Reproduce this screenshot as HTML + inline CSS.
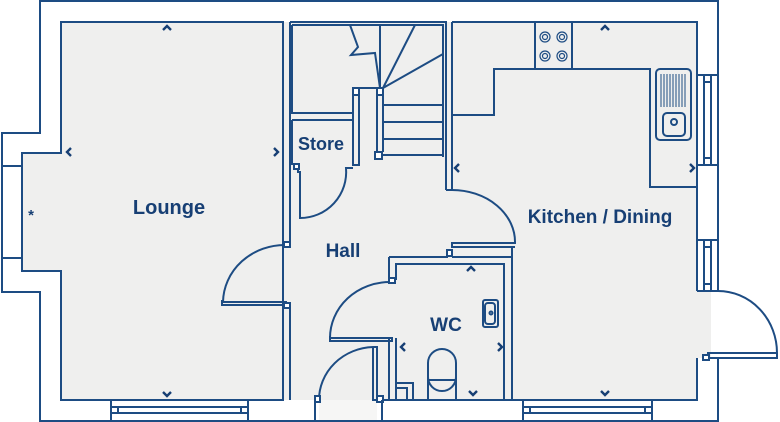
<!DOCTYPE html>
<html><head><style>body{margin:0;background:#fff}svg{display:block}text{font-family:"Liberation Sans",sans-serif;font-weight:bold;fill:#173f74}</style></head><body>
<svg width="780" height="422" viewBox="0 0 780 422" xmlns="http://www.w3.org/2000/svg">
<path d="M40 1 H718 V421 H40 V292 H2 V133 H40 Z" fill="#fff"/>
<path d="M61 22 H697 V291 H711 V358 H697 V400 H61 V271 H22 V153 H61 Z" fill="#efefee"/>
<rect x="319" y="400" width="58" height="21" fill="#f6f6f5"/>
<g stroke="#1d4c83" stroke-width="2" fill="none">
<path d="M718 291 V1 H40 V133 H2 V292 H40 V421 H718 V358"/>
<path d="M61 22 H283 V400 H61 V271 H22 V153 H61 Z"/>
<path d="M452 22 H697 V291 M697 358 V400 H384"/>
<path d="M290 22 H446 V190 M290 22 V245 M290 302 V400"/>
<path d="M446 190 H452 V22"/>
<path d="M292 25 H443 V157 M292 25 V113 H353 V88 H377 M353 113 V120 M292 120 H353 V165 H359 V88 M292 120 V165"/>
<rect x="353" y="88" width="6" height="7" fill="#fff"/>
<rect x="377" y="88" width="6" height="7" fill="#fff"/>
<rect x="375" y="152" width="7" height="7" fill="#fff"/>
<path d="M377 95 V152 M383 95 V152 M380 25 V88 M383 88 L415 25 M383 88 L443 54 M383 105 H443 M383 122 H443 M383 139 H443 M383 155 H443"/>
<path d="M350 25 L358 47 L351 55 L375 53 L380 88"/>
<path d="M294 165 H298 V172 H300 V218 A46 46 0 0 0 346 168 H353"/>
<rect x="294" y="164" width="5" height="5" fill="#fff"/>
<path d="M286 245 A62 58 0 0 0 223 302 H286 V305 H222 V300"/>
<rect x="284" y="242" width="6" height="5" fill="#fff"/>
<rect x="284" y="303" width="6" height="5" fill="#fff"/>
<path d="M452 190 A63 52 0 0 1 515 243 H452 V247 H515"/>
<path d="M389 257 V280 M389 338 V400 M396 338 V400 M396 280 V264 H504 V400 M512 247 V400"/>
<path d="M389 257 H448 M452 257 H512"/>
<rect x="447" y="250" width="5" height="6" fill="#fff"/>
<rect x="389" y="278" width="6" height="5" fill="#fff"/>
<path d="M390 282 A60 56 0 0 0 330 338 H392 V341 H330 V336"/>
<path d="M396 383 H413 V400 M396 388 H407 V400"/>
<rect x="428" y="349" width="28" height="42" rx="14" fill="#efefee"/>
<path d="M428 372 V400 M456 372 V400 M428 380 H456"/>
<rect x="483" y="300" width="15" height="27" rx="2"/>
<rect x="485" y="303" width="10" height="21" rx="3"/>
<circle cx="491" cy="313" r="1.5"/>
<path d="M319 400 A56 53 0 0 1 373 347 H377 V400 H373 V347"/>
<rect x="315" y="396" width="5" height="6" fill="#fff"/>
<rect x="377" y="396" width="6" height="6" fill="#fff"/>
<path d="M248 400 V421 M315 400 V421 M382 400 V421 M523 400 V421"/>
<path d="M111 400 V421 M248 400 V421 M111 407 H248 M111 413 H248 M118 407 V413 M241 407 V413"/>
<path d="M523 400 V421 M652 400 V421 M523 407 H652 M523 413 H652 M530 407 V413 M645 407 V413"/>
<path d="M2 166 H22 M2 258 H22"/>
<path d="M697 75 H718 M697 165 H718 M704 75 V165 M711 75 V165 M704 82 H711 M704 158 H711"/>
<path d="M697 240 H718 M697 291 H718 M704 240 V291 M711 240 V291 M704 247 H711 M704 284 H711"/>
<path d="M718 291 A59 62 0 0 1 777 353 V358 H708 V353 H777"/>
<rect x="703" y="355" width="6" height="5" fill="#fff"/>
<path d="M453 115 H494 V69 H650 V187 H697"/>
<path d="M535 22 V69 M572 22 V69"/>
<g stroke-width="1.2"><circle cx="545" cy="37" r="5"/><circle cx="545" cy="37" r="2.5"/><circle cx="562" cy="37" r="5"/><circle cx="562" cy="37" r="2.5"/><circle cx="545" cy="56" r="5"/><circle cx="545" cy="56" r="2.5"/><circle cx="562" cy="56" r="5"/><circle cx="562" cy="56" r="2.5"/></g>
<rect x="656" y="69" width="35" height="71" rx="4"/>
<rect x="663" y="113" width="22" height="23" rx="4"/>
<circle cx="674" cy="122" r="3"/>
<path d="M661 74 V107 M664 74 V107 M667 74 V107 M670 74 V107 M673 74 V107 M676 74 V107 M679 74 V107 M682 74 V107 M685 74 V107" stroke-width="1"/>
<g stroke-width="2.4" stroke="#173f74">
<path d="M163 30 L167 26 L171 30 M163 392 L167 396 L171 392 M71 148 L67 152 L71 156 M274 148 L278 152 L274 156"/>
<path d="M601 30 L605 26 L609 30 M601 391 L605 395 L609 391 M459 164 L455 168 L459 172 M690 164 L694 168 L690 172"/>
<path d="M467 271 L471 267 L475 271 M469 391 L473 395 L477 391 M405 343 L401 347 L405 351 M498 343 L502 347 L498 351"/>
</g>
</g>
<text x="31" y="220" font-size="15" font-weight="normal" text-anchor="middle">*</text>
<text x="169" y="214" font-size="20" text-anchor="middle">Lounge</text>
<text x="321" y="150" font-size="18" text-anchor="middle">Store</text>
<text x="343" y="257" font-size="19" text-anchor="middle">Hall</text>
<text x="446" y="331" font-size="19" text-anchor="middle">WC</text>
<text x="600" y="223" font-size="19" text-anchor="middle">Kitchen / Dining</text>
</svg>
</body></html>
